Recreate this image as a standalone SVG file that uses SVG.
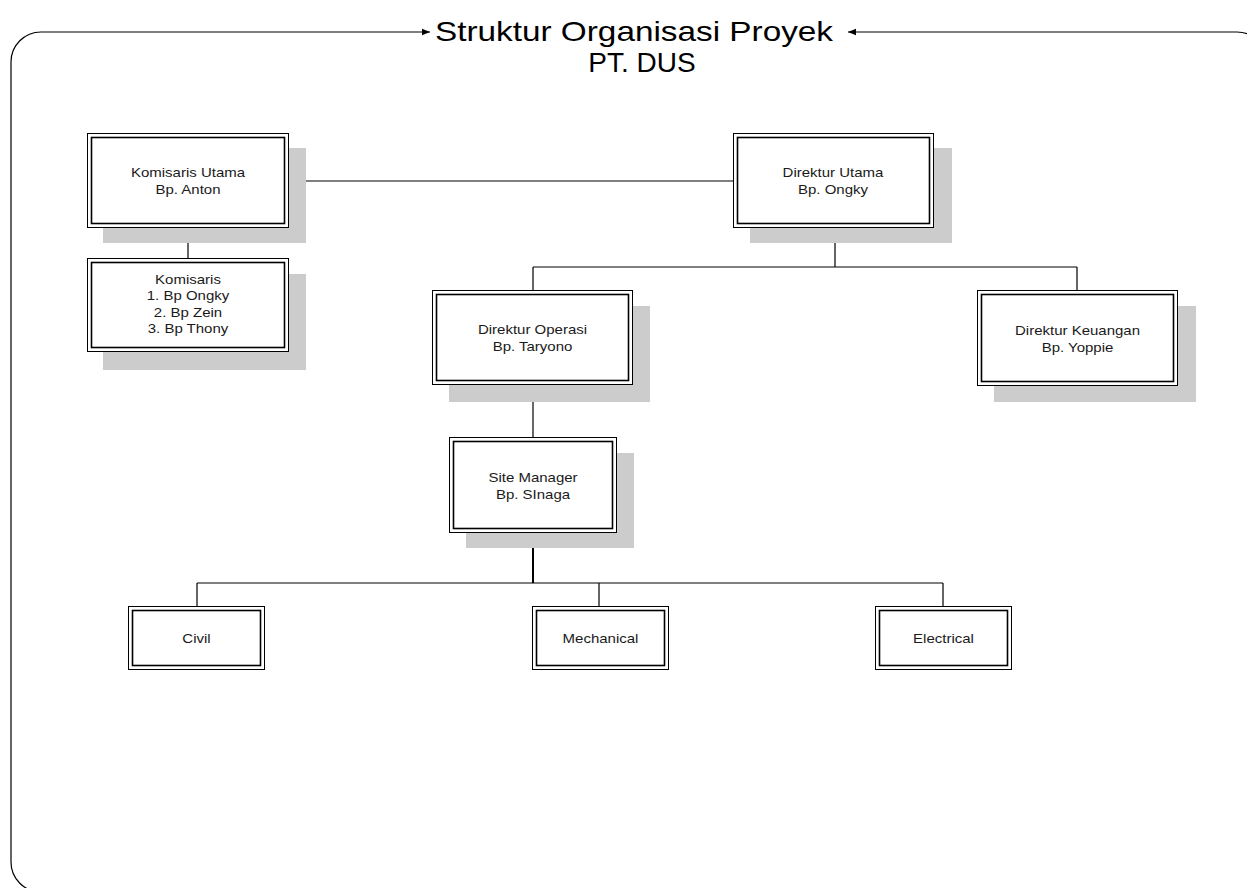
<svg xmlns="http://www.w3.org/2000/svg" width="1247" height="888" viewBox="0 0 1247 888">
<style>
.sh{fill:#cccccc;stroke:none}
.o{fill:#ffffff;stroke:#000;stroke-width:1}
.i{fill:#ffffff;stroke:#000;stroke-width:1.6}
.t{font-family:"Liberation Sans",Arial,sans-serif;font-size:12.5px;fill:#1a1a1a;text-anchor:middle}
.ttl{font-family:"Liberation Sans",Arial,sans-serif;font-size:28px;fill:#000;text-anchor:middle}
.c{fill:none;stroke:#000;stroke-width:1.2}
</style>
<defs>
<marker id="ah" viewBox="0 0 10 10" refX="10" refY="5" markerWidth="10" markerHeight="8" markerUnits="userSpaceOnUse" orient="auto-start-reverse">
<path d="M0,1 L10,5 L0,9 Z" fill="#000"/>
</marker>
</defs>
<g id="frame">
<path class="c" d="M430,32 L41,32 A30,30 0 0 0 11,62 L11,862 A30,30 0 0 0 41,892 L1237,892 A30,30 0 0 0 1267,862 L1267,62 A30,30 0 0 0 1237,32 L848,32" marker-start="url(#ah)" marker-end="url(#ah)"/>
</g>
<g id="title">
<text class="ttl" x="634" y="41" textLength="398" lengthAdjust="spacingAndGlyphs">Struktur Organisasi Proyek</text>
<text class="ttl" x="642" y="72">PT. DUS</text>
</g>
<g id="connectors">
<path class="c" d="M289,181 L733,181"/>
<path class="c" d="M188,228 L188,258"/>
<path class="c" d="M835,228 L835,267 M533,267 L1077,267 M533,267 L533,290 M1077,267 L1077,290"/>
<path class="c" d="M533,384 L533,437"/>
<path fill="none" stroke="#000" stroke-width="2" d="M533,533 L533,583"/>
<path class="c" d="M197,583 L943,583 M197,583 L197,606 M599,583 L599,606 M943,583 L943,606"/>
</g>
<g id="komisaris-utama">
<rect class="sh" x="103" y="148" width="203" height="95"/>
<rect class="o" x="87.5" y="133.5" width="201" height="94"/>
<rect class="i" x="91.5" y="137.5" width="193" height="86"/>
<g transform="translate(188,0) scale(1.2,1)">
<text class="t" x="0" y="177">Komisaris Utama</text>
<text class="t" x="0" y="194">Bp.  Anton</text>
</g>
</g>
<g id="komisaris">
<rect class="sh" x="103" y="274" width="203" height="96"/>
<rect class="o" x="87.5" y="258.5" width="201" height="93"/>
<rect class="i" x="91.5" y="262.5" width="193" height="85"/>
<g transform="translate(188,0) scale(1.2,1)">
<text class="t" x="0" y="284">Komisaris</text>
<text class="t" x="0" y="300">1. Bp Ongky</text>
<text class="t" x="0" y="317">2. Bp Zein</text>
<text class="t" x="0" y="333">3. Bp Thony</text>
</g>
</g>
<g id="direktur-utama">
<rect class="sh" x="750" y="148" width="202" height="95"/>
<rect class="o" x="733.5" y="133.5" width="200" height="94"/>
<rect class="i" x="737.5" y="137.5" width="192" height="86"/>
<g transform="translate(833,0) scale(1.2,1)">
<text class="t" x="0" y="177">Direktur Utama</text>
<text class="t" x="0" y="194">Bp. Ongky</text>
</g>
</g>
<g id="direktur-operasi">
<rect class="sh" x="449" y="306" width="201" height="96"/>
<rect class="o" x="432.5" y="290.5" width="200" height="94"/>
<rect class="i" x="436.5" y="294.5" width="192" height="86"/>
<g transform="translate(532.5,0) scale(1.2,1)">
<text class="t" x="0" y="334">Direktur Operasi</text>
<text class="t" x="0" y="351">Bp. Taryono</text>
</g>
</g>
<g id="direktur-keuangan">
<rect class="sh" x="994" y="306" width="202" height="96"/>
<rect class="o" x="977.5" y="290.5" width="200" height="95"/>
<rect class="i" x="981.5" y="294.5" width="192" height="87"/>
<g transform="translate(1077.5,0) scale(1.2,1)">
<text class="t" x="0" y="335">Direktur Keuangan</text>
<text class="t" x="0" y="352">Bp. Yoppie</text>
</g>
</g>
<g id="site-manager">
<rect class="sh" x="466" y="453" width="168" height="95"/>
<rect class="o" x="449.5" y="437.5" width="167" height="95"/>
<rect class="i" x="453.5" y="441.5" width="159" height="87"/>
<g transform="translate(533,0) scale(1.2,1)">
<text class="t" x="0" y="482">Site Manager</text>
<text class="t" x="0" y="499">Bp. SInaga</text>
</g>
</g>
<g id="civil">
<rect class="o" x="128.5" y="606.5" width="136" height="63"/>
<rect class="i" x="132.5" y="610.5" width="128" height="55"/>
<text class="t" x="0" y="643" transform="translate(196.5,0) scale(1.2,1)">Civil</text>
</g>
<g id="mechanical">
<rect class="o" x="532.5" y="606.5" width="136" height="63"/>
<rect class="i" x="536.5" y="610.5" width="128" height="55"/>
<text class="t" x="0" y="643" transform="translate(600.5,0) scale(1.2,1)">Mechanical</text>
</g>
<g id="electrical">
<rect class="o" x="875.5" y="606.5" width="136" height="63"/>
<rect class="i" x="879.5" y="610.5" width="128" height="55"/>
<text class="t" x="0" y="643" transform="translate(943.5,0) scale(1.2,1)">Electrical</text>
</g>
</svg>
